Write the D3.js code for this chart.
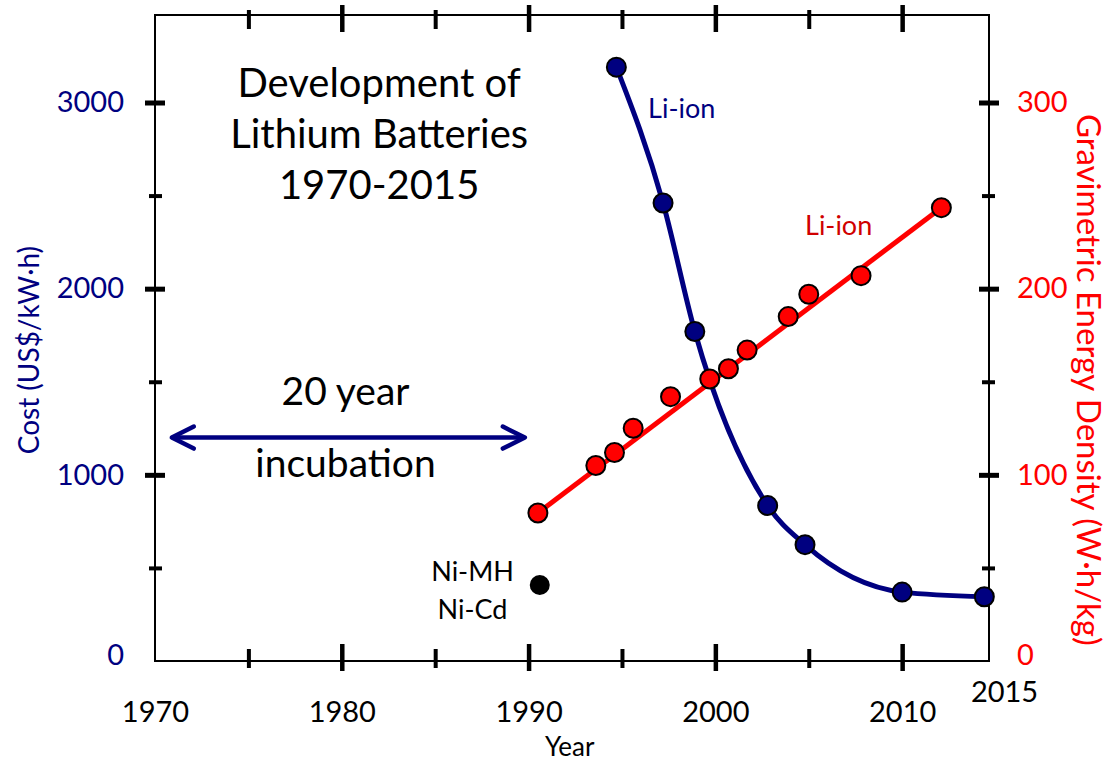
<!DOCTYPE html>
<html>
<head>
<meta charset="utf-8">
<script src="https://cdn.jsdelivr.net/npm/d3@7"></script>
<style>
  body { margin: 0; background: #fff; }
  svg { font-family: Lato, "Open Sans", sans-serif; }
</style>
</head>
<body>
<svg id="chart" width="1113" height="761"></svg>
<script>
const width = 1113;
const height = 761;
const margin = { top: 15, right: 124, bottom: 100, left: 155 };

const navy = "#000080";
const red = "#ff0000";

// Li-ion cost (left axis)
const costYears = [1994.7, 1997.2, 1998.9, 2002.8, 2004.8, 2010.0, 2014.4];
const costValues = [3190, 2460, 1770, 835, 625, 370, 345];

// Li-ion gravimetric energy density (right axis)
const energyYears = [1990.5, 1993.6, 1994.6, 1995.6, 1997.6, 1999.7, 2000.7, 2001.7, 2003.9, 2005.0, 2007.8, 2012.1];
const energyValues = [79.5, 105, 112, 125, 142, 151.5, 157, 167, 185, 197, 207, 243.5];

// linear trend through the energy density points
const fitYears = [1990.5, 2012.1];
const fitValues = [79.5, 243.5];

// Ni-MH / Ni-Cd reference point
const nickelYear = 1990.6;
const nickelCost = 408;

// "20 year incubation" arrow
const arrowYears = [1970.9, 1989.8];
const arrowCost = 1200;

const xLabelTicks = [1970, 1980, 1990, 2000, 2010];
const xMajorTicks = [1980, 1990, 2000, 2010];
const xMinorTicks = [1975, 1985, 1995, 2005];
const costTicks = [0, 1000, 2000, 3000];
const costMinor = [500, 1500, 2500];
const energyTicks = [0, 100, 200, 300];
const energyMinor = [50, 150, 250];

const titleLines = ["Development of", "Lithium Batteries", "1970-2015"];

const svg = d3.select("#chart");

const x = d3.scaleLinear()
  .domain([1970, 2014.65])
  .range([margin.left, width - margin.right]);

const yCost = d3.scaleLinear()
  .domain([0, 3470])
  .range([height - margin.bottom, margin.top]);

const yEnergy = d3.scaleLinear()
  .domain([0, 347])
  .range([height - margin.bottom, margin.top]);

const x0 = x.range()[0], x1 = x.range()[1];
const yb = yCost.range()[0], yt = yCost.range()[1];

// frame
svg.append("rect")
  .attr("x", x0).attr("y", yt)
  .attr("width", x1 - x0).attr("height", yb - yt)
  .attr("fill", "none")
  .attr("stroke", "#000")
  .attr("stroke-width", 2);

// tick marks crossing the frame
function tickAxis(axis, tx, ty, width) {
  const g = svg.append("g")
    .attr("transform", `translate(${tx},${ty})`)
    .call(axis);
  g.select(".domain").remove();
  g.selectAll(".tick line").attr("stroke", "#000").attr("stroke-width", width);
  g.selectAll(".tick text").remove();
  return g;
}

// bottom
tickAxis(d3.axisBottom(x).tickValues(xMajorTicks).tickSize(27), 0, yb - 17, 4.5);
tickAxis(d3.axisBottom(x).tickValues(xMinorTicks).tickSize(19), 0, yb - 12, 4);
// top
tickAxis(d3.axisTop(x).tickValues(xMajorTicks).tickSize(27), 0, yt + 17, 4.5);
tickAxis(d3.axisTop(x).tickValues(xMinorTicks).tickSize(19), 0, yt + 14, 4);
// left
tickAxis(d3.axisLeft(yCost).tickValues(costTicks.slice(1)).tickSize(20), x0 + 10, 0, 5);
tickAxis(d3.axisLeft(yCost).tickValues(costMinor).tickSize(13), x0 + 7, 0, 4);
// right
tickAxis(d3.axisRight(yEnergy).tickValues(energyTicks.slice(1)).tickSize(20), x1 - 10, 0, 5);
tickAxis(d3.axisRight(yEnergy).tickValues(energyMinor).tickSize(13), x1 - 7, 0, 4);

// tick labels
function labelAxis(axis, tx, ty, color) {
  const g = svg.append("g")
    .attr("transform", `translate(${tx},${ty})`)
    .call(axis);
  g.select(".domain").remove();
  g.selectAll(".tick line").remove();
  g.selectAll(".tick text")
    .attr("fill", color)
    .style("font-size", "29px")
    .style("font-family", "Lato, 'Open Sans', sans-serif");
  return g;
}

labelAxis(d3.axisBottom(x).tickValues(xLabelTicks).tickSize(0).tickPadding(40).tickFormat(d3.format("d")), 0, yb, "#000");
const leftLabels = labelAxis(d3.axisLeft(yCost).tickValues(costTicks).tickSize(0).tickPadding(31).tickFormat(d3.format("d")), x0, 0, navy);
const rightLabels = labelAxis(d3.axisRight(yEnergy).tickValues(energyTicks).tickSize(0).tickPadding(28).tickFormat(d3.format("d")), x1, 0, red);

// the zero labels sit a little above the bottom edge
leftLabels.selectAll(".tick").filter(d => d === 0).select("text").attr("y", -6);
rightLabels.selectAll(".tick").filter(d => d === 0).select("text").attr("y", -6);

svg.append("text")
  .attr("x", x(2015) + 9)
  .attr("y", yb + 41)
  .attr("text-anchor", "middle")
  .style("font-size", "29px")
  .text("2015");

// axis titles
svg.append("text")
  .attr("x", x(1992.2))
  .attr("y", 756)
  .attr("text-anchor", "middle")
  .style("font-size", "26px")
  .text("Year");

svg.append("text")
  .attr("transform", `translate(39,${yCost(1670)}) rotate(-90)`)
  .attr("text-anchor", "middle")
  .attr("fill", navy)
  .style("font-size", "28px")
  .text("Cost (US$/kW\u00b7h)");

svg.append("text")
  .attr("transform", `translate(1077,${yEnergy(151)}) rotate(90)`)
  .attr("text-anchor", "middle")
  .attr("fill", red)
  .style("font-size", "33px")
  .text("Gravimetric Energy Density (W\u00b7h/kg)");

// title block
svg.append("g")
  .selectAll("text")
  .data(titleLines)
  .join("text")
  .attr("x", x(1982.0))
  .attr("y", (d, i) => 97 + i * 51)
  .attr("text-anchor", "middle")
  .style("font-size", "40px")
  .text(d => d);

// incubation arrow
const defs = svg.append("defs");
defs.append("marker")
  .attr("id", "chevron")
  .attr("viewBox", "-26 -15 30 30")
  .attr("refX", 0)
  .attr("refY", 0)
  .attr("markerWidth", 30)
  .attr("markerHeight", 30)
  .attr("markerUnits", "userSpaceOnUse")
  .attr("orient", "auto-start-reverse")
  .append("path")
  .attr("d", "M-22,-11L0,0L-22,11")
  .attr("fill", "none")
  .attr("stroke", navy)
  .attr("stroke-width", 4.5)
  .attr("stroke-linecap", "round")
  .attr("stroke-linejoin", "round");

svg.append("line")
  .attr("x1", x(arrowYears[0]))
  .attr("x2", x(arrowYears[1]))
  .attr("y1", yCost(arrowCost))
  .attr("y2", yCost(arrowCost))
  .attr("stroke", navy)
  .attr("stroke-width", 4.5)
  .attr("marker-start", "url(#chevron)")
  .attr("marker-end", "url(#chevron)");

svg.append("text")
  .attr("x", x(1980.2))
  .attr("y", 405)
  .attr("text-anchor", "middle")
  .style("font-size", "39px")
  .text("20 year");

svg.append("text")
  .attr("x", x(1980.2))
  .attr("y", 477)
  .attr("text-anchor", "middle")
  .style("font-size", "39px")
  .text("incubation");

// cost curve
const costData = costYears.map((d, i) => ({ year: d, value: costValues[i] }));
const energyData = energyYears.map((d, i) => ({ year: d, value: energyValues[i] }));
const fitData = fitYears.map((d, i) => ({ year: d, value: fitValues[i] }));

svg.append("path")
  .datum(costData)
  .attr("fill", "none")
  .attr("stroke", navy)
  .attr("stroke-width", 5)
  .attr("d", d3.line()
    .x(d => x(d.year))
    .y(d => yCost(d.value))
    .curve(d3.curveMonotoneX));

svg.append("g")
  .selectAll("circle")
  .data(costData)
  .join("circle")
  .attr("cx", d => x(d.year))
  .attr("cy", d => yCost(d.value))
  .attr("r", 9.5)
  .attr("fill", navy)
  .attr("stroke", "#000")
  .attr("stroke-width", 2);

// energy density trend
svg.append("path")
  .datum(fitData)
  .attr("fill", "none")
  .attr("stroke", red)
  .attr("stroke-width", 5)
  .attr("d", d3.line()
    .x(d => x(d.year))
    .y(d => yEnergy(d.value)));

svg.append("g")
  .selectAll("circle")
  .data(energyData)
  .join("circle")
  .attr("cx", d => x(d.year))
  .attr("cy", d => yEnergy(d.value))
  .attr("r", 9.5)
  .attr("fill", red)
  .attr("stroke", "#000")
  .attr("stroke-width", 2);

// Ni-MH / Ni-Cd
svg.append("circle")
  .attr("cx", x(nickelYear))
  .attr("cy", yCost(nickelCost))
  .attr("r", 10)
  .attr("fill", "#000");

svg.append("text")
  .attr("x", x(1987.0))
  .attr("y", 581)
  .attr("text-anchor", "middle")
  .style("font-size", "27px")
  .text("Ni-MH");

svg.append("text")
  .attr("x", x(1987.0))
  .attr("y", 619)
  .attr("text-anchor", "middle")
  .style("font-size", "27px")
  .text("Ni-Cd");

// series labels
svg.append("text")
  .attr("x", x(1998.2))
  .attr("y", 118)
  .attr("text-anchor", "middle")
  .attr("fill", navy)
  .style("font-size", "27px")
  .text("Li-ion");

svg.append("text")
  .attr("x", x(2006.6))
  .attr("y", 235)
  .attr("text-anchor", "middle")
  .attr("fill", "#d00000")
  .style("font-size", "27px")
  .text("Li-ion");
</script>
</body>
</html>
